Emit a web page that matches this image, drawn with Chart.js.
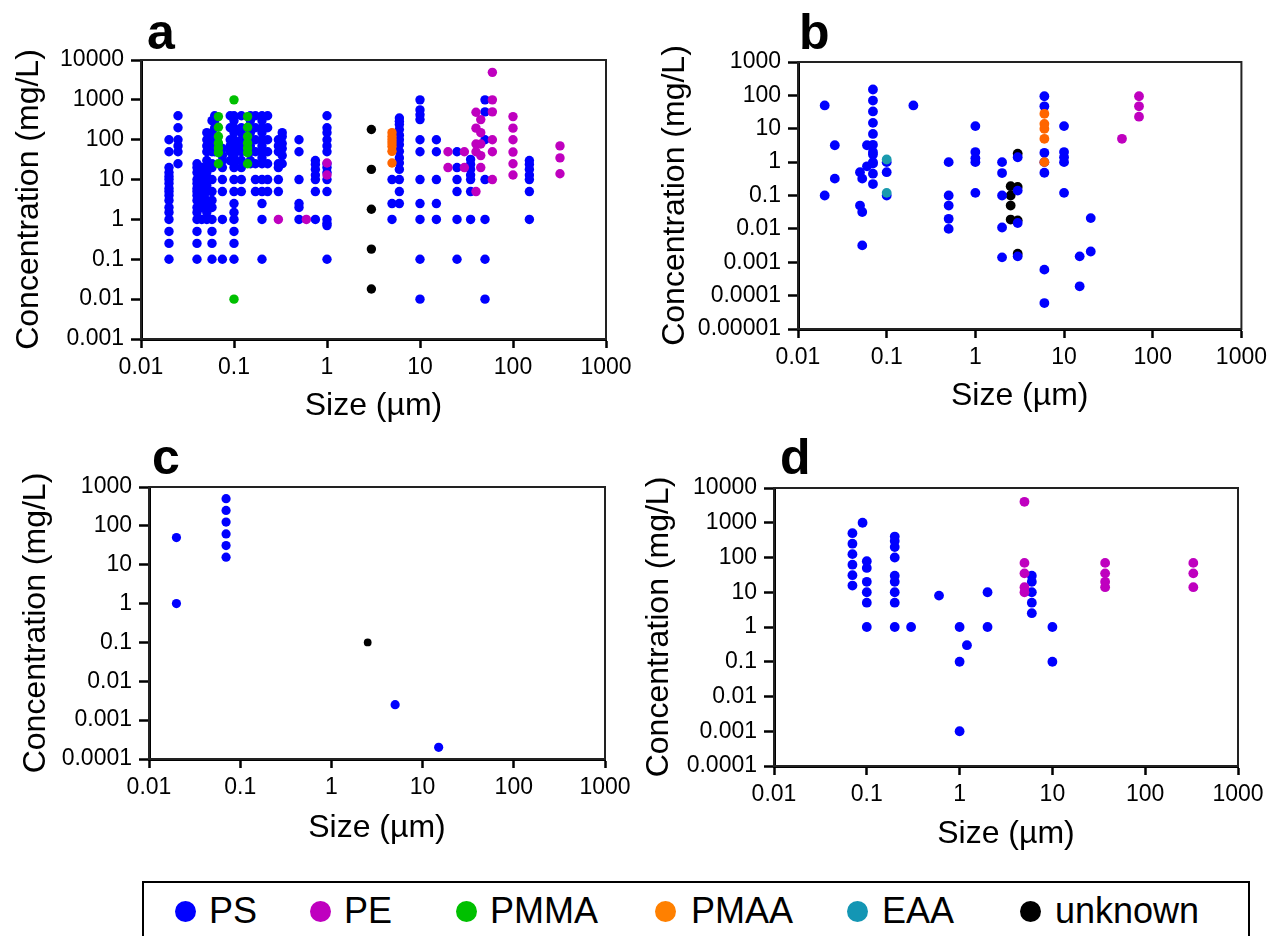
<!DOCTYPE html>
<html>
<head>
<meta charset="utf-8">
<script src="https://cdn.jsdelivr.net/npm/chart.js@4.4.1/dist/chart.umd.min.js"></script>
<style>
  body { margin: 0; width: 1273px; height: 936px; overflow: hidden; background: #fff; position: relative;
         font-family: 'Liberation Sans', Arial, sans-serif; }
  canvas { position: absolute; }
  .tag { position: absolute; font-weight: bold; font-size: 50px; line-height: 50px; }
  #legend { position: absolute; left: 142px; top: 881px; width: 1104px; height: 80px; border: 2px solid #000; }
  .dot { position: absolute; width: 21px; height: 21px; border-radius: 50%; top: 901px; }
  .lbl { position: absolute; top: 891px; font-size: 36px; line-height: 40px; }
</style>
</head>
<body>
<canvas id="pa" width="640" height="430" style="left:0;top:0"></canvas>
<canvas id="pb" width="633" height="420" style="left:640px;top:0"></canvas>
<canvas id="pc" width="640" height="420" style="left:0;top:440px"></canvas>
<canvas id="pd" width="633" height="430" style="left:640px;top:440px"></canvas>

<div class="tag" style="left:147px;top:7px">a</div>
<div class="tag" style="left:799px;top:7px">b</div>
<div class="tag" style="left:152px;top:432px">c</div>
<div class="tag" style="left:780px;top:432px">d</div>

<div id="legend"></div>
<div id="legendItems"></div>

<script>
// Each series: list of [size, [concentrations...]] columns

// --- panel a ---
const aPS = [
  [0.02, [100, 50, 20, 15, 12, 10, 8, 6, 5, 4, 3, 2, 1.5, 1, 0.5, 0.25, 0.1]],
  [0.025, [400, 200, 100, 70, 50, 25]],
  [0.04, [25, 20, 15, 10, 8, 6, 5, 4, 3, 2, 1.5, 1, 0.5, 0.25, 0.1]],
  [0.045, [20, 15, 10, 6, 4, 3, 2, 1]],
  [0.051, [150, 100, 70, 50, 30, 20, 15, 10, 7, 5, 3, 2, 1.5, 1]],
  [0.058, [300, 150, 100, 70, 50, 25, 20, 10, 5, 3, 2, 1, 0.5, 0.25, 0.1]],
  [0.062, [400, 300, 200, 100, 80, 50]],
  [0.075, [60, 40, 30, 20, 10, 5, 1, 0.1]],
  [0.091, [400, 200, 100, 70, 50, 30]],
  [0.1, [400, 300, 200, 150, 100, 80, 60, 50, 40, 30, 25, 20, 10, 5, 2.5, 1.5, 1, 0.5, 0.25, 0.1]],
  [0.12, [400, 200, 150, 100, 70, 50, 30, 20, 10, 5]],
  [0.15, [400, 300, 200, 150, 100, 70, 50, 30, 25]],
  [0.17, [400, 200, 100, 50, 25, 10, 5]],
  [0.2, [400, 300, 200, 150, 100, 70, 50, 35, 25, 10, 5, 2.5, 1, 0.1]],
  [0.23, [400, 200, 100, 50, 25, 10, 5]],
  [0.3, [100, 70, 50, 25, 20, 10, 5]],
  [0.33, [150, 120, 80, 60, 40, 25]],
  [0.5, [100, 50, 10, 2.5, 2, 1]],
  [0.75, [30, 24, 18, 13, 10, 5, 1]],
  [1, [400, 200, 150, 100, 70, 50, 25, 20, 15, 10, 5, 1, 0.8, 0.7, 0.1]],
  [5, [10, 2.5, 1]],
  [6, [350, 290, 240, 180, 130, 100, 75, 51, 35, 26, 18, 10, 5, 2.5]],
  [10, [1000, 560, 420, 320, 100, 50, 10, 2.5, 1, 0.1, 0.01]],
  [15, [100, 50, 10, 2.5, 1]],
  [25, [50, 20, 10, 5, 1, 0.1]],
  [35, [32, 24, 18, 13, 10, 5, 1]],
  [50, [1000, 500, 100, 10, 1, 0.1, 0.01]],
  [150, [30, 24, 18, 13, 10, 5, 1]]
];
const aPE = [
  [0.3, [1]], [0.6, [1]], [1, [26, 13]],
  [20, [50, 20]], [30, [50, 20]],
  [40, [490, 195, 78, 50, 5]], [45, [320, 150, 78, 40, 20]],
  [60, [4900, 1000, 500, 100, 50, 10]],
  [100, [380, 195, 100, 49, 25, 13]],
  [320, [70, 35, 14]]
];
const aPMMA = [
  [0.068, [380, 205, 120, 82, 62, 47, 25]],
  [0.1, [1000, 0.01]],
  [0.14, [380, 205, 120, 82, 62, 47, 25]]
];
const aPMAA = [[5, [150, 120, 100, 83, 68, 51, 26]]];
const aUnknown = [[3, [180, 18, 1.8, 0.18, 0.018]]];

// --- panel b ---
const bPS = [
  [0.02, [50, 0.1]], [0.026, [3.2, 0.32]], [0.05, [0.5, 0.05]], [0.053, [0.32, 0.032, 0.0032]],
  [0.06, [3.2, 0.75]], [0.07, [150, 70, 33, 15, 7, 3.3, 2, 1.7, 1, 0.9, 0.45, 0.22]],
  [0.1, [1, 0.5, 0.1]], [0.2, [50]], [0.5, [1, 0.1, 0.05, 0.02, 0.01]],
  [1, [12, 2, 1.3, 1, 0.12]], [2, [1, 0.47, 0.1, 0.011, 0.0014]],
  [3, [1.4, 0.14, 0.015, 0.0015]], [6, [94, 47, 1.9, 1, 0.48, 0.0006, 0.00006]],
  [10, [12, 2, 1.4, 1, 0.12]], [15, [0.0015, 0.00019]], [20, [0.021, 0.0021]]
];
const bPE = [[45, [5]], [70, [94, 47, 23]]];
const bPMAA = [[6, [28, 14, 10, 5, 1]]];
const bEAA = [[0.1, [1.2, 0.12]]];
const bUnknown = [[2.5, [0.19, 0.1, 0.05, 0.019]], [3, [1.8, 0.18, 0.018, 0.0018]]];

// --- panel c ---
const cPS = [[0.02, [50, 1]], [0.07, [500, 250, 125, 62, 31, 15.6]], [5, [0.0025]], [15, [0.0002]]];
const cUnknown = [[2.5, [0.1]]];

// --- panel d ---
const dPS = [
  [0.07, [500, 250, 125, 62, 31, 15.6]], [0.09, [1000]], [0.1, [78, 50, 20, 10, 5, 1]],
  [0.2, [400, 300, 200, 100, 30, 20, 10, 5, 1]], [0.3, [1]], [0.6, [8]],
  [1, [1, 0.1, 0.001]], [1.2, [0.3]], [2, [10, 1]],
  [6, [30, 20, 10, 5, 2.5]], [10, [1, 0.1]]
];
const dPE = [[5, [4000, 70, 35, 14, 10]], [37, [70, 35, 20, 14]], [330, [70, 35, 14]]];

// tick labels
const xTickLabels = ['0.01', '0.1', '1', '10', '100', '1000'];
const aYTickLabels = ['0.001', '0.01', '0.1', '1', '10', '100', '1000', '10000'];
const bYTickLabels = ['0.00001', '0.0001', '0.001', '0.01', '0.1', '1', '10', '100', '1000'];
const cYTickLabels = ['0.0001', '0.001', '0.01', '0.1', '1', '10', '100', '1000'];
const dYTickLabels = ['0.0001', '0.001', '0.01', '0.1', '1', '10', '100', '1000', '10000'];

const legendNames = ['PS', 'PE', 'PMMA', 'PMAA', 'EAA', 'unknown'];
const legendColors = ['#0000ff', '#bf00bf', '#00c000', '#ff8000', '#1496b4', '#000000'];

const COL = { PS: '#0000ff', PE: '#bf00bf', PMMA: '#00c000', PMAA: '#ff6600', EAA: '#1a9aae', unknown: '#000000' };
const FONT = "'Liberation Sans', Arial, sans-serif";
Chart.defaults.font.family = FONT;
Chart.defaults.color = '#000';

function toPoints(cols) {
  const pts = [];
  cols.forEach(([x, ys]) => ys.forEach(y => pts.push({ x: x, y: y })));
  return pts;
}

const framePlugin = {
  id: 'frame',
  beforeDatasetsDraw(chart) {
    const { ctx, chartArea: a } = chart;
    ctx.save();
    ctx.strokeStyle = '#222';
    ctx.lineWidth = 2;
    ctx.strokeRect(a.left, a.top, a.right - a.left, a.bottom - a.top);
    ctx.restore();
  }
};

function makePanel(id, p) {
  const datasets = p.series.map(s => ({
    label: s.name,
    data: toPoints(s.cols),
    backgroundColor: COL[s.name],
    borderWidth: 0,
    pointRadius: s.r || p.radius,
    order: s.order,
    clip: false
  }));
  const yTicks = p.yLabels.map(Number);
  const xTicks = xTickLabels.map(Number);
  new Chart(document.getElementById(id), {
    type: 'scatter',
    data: { datasets: datasets },
    options: {
      responsive: false,
      animation: false,
      events: [],
      devicePixelRatio: 1,
      layout: { padding: { top: p.top, right: p.right, left: 0, bottom: 0 } },
      plugins: { legend: { display: false }, tooltip: { enabled: false } },
      scales: {
        x: {
          type: 'logarithmic', position: 'bottom', min: 0.01, max: 1000,
          afterBuildTicks: s => { s.ticks = xTicks.map(v => ({ value: v })); },
          afterFit: s => { s.height = p.xHeight; },
          border: { display: true, width: 3, color: '#000' },
          grid: { drawOnChartArea: false, drawTicks: true, tickLength: 9, tickWidth: 2.5, tickColor: '#000' },
          ticks: { autoSkip: false, maxRotation: 0, padding: 6, font: { size: 23 },
                   callback: (v, i) => xTickLabels[i] },
          title: { display: true, text: 'Size (µm)', font: { size: 32 },
                   padding: { top: 0, bottom: p.xTitlePad } }
        },
        y: {
          type: 'logarithmic', position: 'left', min: yTicks[0], max: yTicks[yTicks.length - 1],
          afterBuildTicks: s => { s.ticks = yTicks.map(v => ({ value: v })); },
          afterFit: s => { s.width = p.yWidth; },
          border: { display: true, width: 3, color: '#000' },
          grid: { drawOnChartArea: false, drawTicks: true, tickLength: 10, tickWidth: 2.5, tickColor: '#000' },
          ticks: { autoSkip: false, padding: 7, font: { size: 23 },
                   callback: (v, i) => p.yLabels[i] },
          title: { display: true, text: 'Concentration (mg/L)', font: { size: 32 },
                   padding: { top: p.yTitlePad, bottom: 0 } }
        }
      }
    },
    plugins: [framePlugin]
  });
}

makePanel('pa', {
  top: 60, right: 34, xHeight: 91, yWidth: 141, xTitlePad: 4.8, yTitlePad: 9.8,
  yLabels: aYTickLabels, radius: 4.7,
  series: [
    { name: 'PMMA', cols: aPMMA, order: 1 },
    { name: 'PMAA', cols: aPMAA, order: 2 },
    { name: 'PE', cols: aPE, order: 3 },
    { name: 'unknown', cols: aUnknown, order: 4 },
    { name: 'PS', cols: aPS, order: 10 }
  ]
});

makePanel('pb', {
  top: 62, right: 30, xHeight: 91, yWidth: 158, xTitlePad: 4.8, yTitlePad: 16,
  yLabels: bYTickLabels, radius: 4.9,
  series: [
    { name: 'EAA', cols: bEAA, order: 1 },
    { name: 'PMAA', cols: bPMAA, order: 2 },
    { name: 'PE', cols: bPE, order: 3 },
    { name: 'PS', cols: bPS, order: 10 },
    { name: 'unknown', cols: bUnknown, order: 20 }
  ]
});

makePanel('pc', {
  top: 47, right: 35, xHeight: 101, yWidth: 149, xTitlePad: 12.8, yTitlePad: 16.8,
  yLabels: cYTickLabels, radius: 4.6,
  series: [
    { name: 'unknown', cols: cUnknown, order: 1, r: 3.9 },
    { name: 'PS', cols: cPS, order: 10 }
  ]
});

makePanel('pd', {
  top: 48, right: 35, xHeight: 104, yWidth: 134, xTitlePad: 16.8, yTitlePad: 0,
  yLabels: dYTickLabels, radius: 4.9,
  series: [
    { name: 'PE', cols: dPE, order: 1 },
    { name: 'PS', cols: dPS, order: 10 }
  ]
});

// legend (HTML, real text)
const legendDotX = [185, 320, 466, 665, 857, 1030];
const legendTextX = [209, 344, 490, 691, 882, 1055];
const box = document.getElementById('legendItems');
legendNames.forEach((name, i) => {
  const d = document.createElement('div');
  d.className = 'dot';
  d.style.left = (legendDotX[i] - 10.5) + 'px';
  d.style.background = legendColors[i];
  box.appendChild(d);
  const t = document.createElement('div');
  t.className = 'lbl';
  t.style.left = legendTextX[i] + 'px';
  t.textContent = name;
  box.appendChild(t);
});
</script>
</body>
</html>
